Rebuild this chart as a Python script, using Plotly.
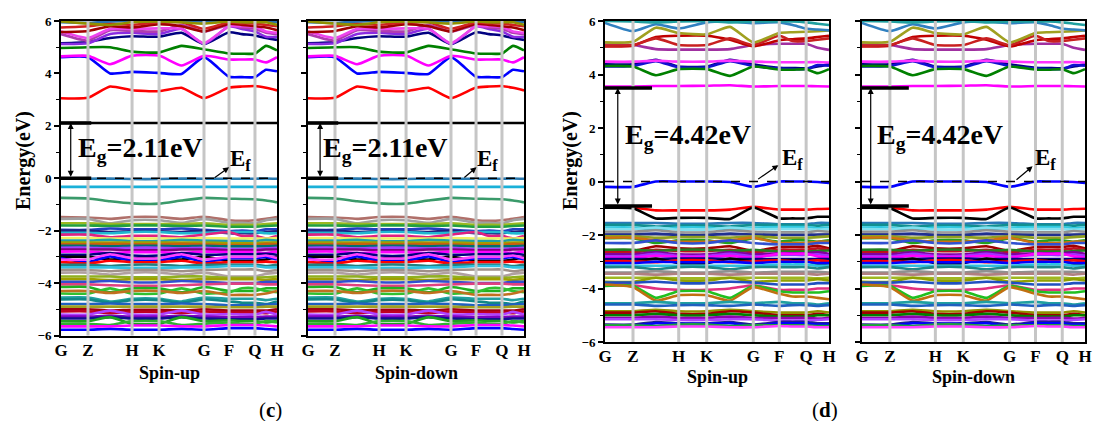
import plotly.graph_objects as go

# ---------------- data ----------------
k_nodes = [0.0, 0.125, 0.227, 0.329, 0.454, 0.558, 0.662, 0.778, 0.838, 0.898, 0.949, 1.0]
k_ticks = [0.0, 0.125, 0.329, 0.454, 0.662, 0.778, 0.898, 1.0]
k_labels = ["G", "Z", "H", "K", "G", "F", "Q", "H"]
y_ticks = [-6, -4, -2, 0, 2, 4, 6]
spin_titles = ["Spin-up", "Spin-down"]
panel_letters = ["(<b>c</b>)", "(<b>d</b>)"]

# panel (c) conduction bands
c_cond_colors = ["#000000", "#ff0000", "#0000ff", "#ff00ff", "#008000", "#000080", "#8a2be2",
                 "#b03cb0", "#ee44ee", "#a00000", "#d02020", "#2a70b0", "#909000"]
c_cond_bands = [
    [2.11, 2.11, 2.11, 2.11, 2.11, 2.11, 2.11, 2.11, 2.11, 2.11, 2.11, 2.11],
    [3.05, 3.07, 3.50, 3.36, 3.32, 3.45, 3.05, 3.46, 3.50, 3.52, 3.45, 3.35],
    [4.62, 4.62, 4.00, 4.06, 4.02, 3.98, 4.62, 3.87, 3.86, 3.86, 4.14, 4.08],
    [4.65, 4.67, 4.35, 4.68, 4.68, 4.30, 4.67, 4.53, 4.53, 4.53, 4.42, 4.62],
    [4.97, 5.00, 5.00, 4.83, 4.80, 5.05, 4.92, 4.76, 4.75, 4.76, 5.05, 4.88],
    [5.15, 5.20, 5.35, 5.42, 5.40, 5.55, 5.12, 5.57, 5.50, 5.45, 5.35, 5.28],
    [5.12, 5.15, 5.50, 5.55, 5.50, 5.70, 5.12, 5.80, 5.70, 5.60, 5.40, 5.40],
    [5.50, 5.25, 5.65, 5.62, 5.60, 5.85, 5.60, 5.85, 5.75, 5.70, 5.55, 5.50],
    [5.60, 5.35, 5.70, 5.70, 5.72, 5.70, 5.15, 5.80, 5.80, 5.78, 5.60, 5.55],
    [5.58, 5.62, 5.80, 5.75, 5.88, 5.80, 5.60, 5.90, 5.85, 5.80, 5.75, 5.65],
    [5.75, 5.80, 5.90, 5.85, 5.95, 5.95, 5.70, 5.95, 5.92, 5.90, 5.85, 5.80],
    [5.95, 5.93, 5.98, 6.00, 6.00, 6.00, 5.98, 6.00, 6.00, 6.00, 5.98, 5.95],
    [5.98, 5.90, 5.85, 5.95, 5.98, 5.95, 5.90, 5.98, 5.95, 5.95, 5.95, 5.85],
]

# panel (c) valence bands
c_val_colors = ["#2a7ab0", "#1ab0d8", "#3a9a6a",
                "#b0706a", "#a0a0a0", "#9ab820", "#20a040", "#2040c0", "#202080", "#20b8d0",
                "#e02080", "#f0f060", "#20a0a0", "#a0a000", "#c86010", "#007070", "#a040ff",
                "#800080", "#ff00ff", "#000080", "#000000", "#0000ff", "#ff0000", "#ff40ff",
                "#208080", "#30c0e0", "#a09088", "#b0a0a0", "#90b020", "#a0a000", "#3050d0",
                "#e04080", "#20b020", "#30c030", "#c07020", "#20a0a0", "#108888", "#2060c0",
                "#a0a020", "#a00010", "#c00020", "#b040ff", "#8000c0", "#101090", "#20a020",
                "#30b030", "#ff00ff", "#0000ff"]
c_val_bands = [
    [-0.02, -0.02, -0.01, -0.03, -0.03, -0.01, -0.02, -0.02, -0.02, -0.02, -0.01, -0.02],
    [-0.33, -0.33, -0.33, -0.33, -0.33, -0.33, -0.33, -0.33, -0.33, -0.33, -0.33, -0.33],
    [-0.75, -0.77, -0.88, -0.96, -0.97, -0.85, -0.75, -0.78, -0.79, -0.80, -0.85, -0.92],
    [-1.48, -1.50, -1.55, -1.48, -1.48, -1.55, -1.47, -1.60, -1.62, -1.60, -1.55, -1.48],
    [-1.55, -1.55, -1.72, -1.60, -1.60, -1.70, -1.55, -1.70, -1.70, -1.72, -1.60, -1.55],
    [-1.72, -1.72, -1.75, -1.75, -1.75, -1.75, -1.72, -1.78, -1.78, -1.78, -1.75, -1.72],
    [-1.80, -1.80, -1.82, -1.80, -1.80, -1.82, -1.80, -1.85, -1.85, -1.85, -1.82, -1.80],
    [-1.97, -1.97, -1.92, -1.95, -1.95, -1.92, -1.97, -2.02, -2.00, -2.02, -1.95, -1.95],
    [-2.00, -2.00, -2.05, -2.02, -2.02, -2.05, -2.00, -2.10, -2.10, -2.10, -2.05, -2.02],
    [-2.08, -2.08, -2.10, -2.05, -2.05, -2.10, -2.08, -2.05, -2.05, -2.05, -2.10, -2.10],
    [-2.15, -2.15, -2.25, -2.20, -2.20, -2.25, -2.15, -2.05, -2.20, -2.20, -2.30, -2.20],
    [-2.28, -2.28, -2.30, -2.30, -2.30, -2.30, -2.28, -2.30, -2.30, -2.30, -2.30, -2.28],
    [-2.38, -2.38, -2.35, -2.40, -2.40, -2.35, -2.38, -2.40, -2.40, -2.40, -2.35, -2.38],
    [-2.45, -2.45, -2.45, -2.45, -2.45, -2.45, -2.45, -2.48, -2.48, -2.48, -2.45, -2.45],
    [-2.52, -2.52, -2.50, -2.52, -2.52, -2.50, -2.52, -2.55, -2.55, -2.55, -2.50, -2.52],
    [-2.58, -2.58, -2.60, -2.58, -2.58, -2.60, -2.58, -2.60, -2.60, -2.60, -2.60, -2.58],
    [-2.65, -2.65, -2.68, -2.65, -2.65, -2.68, -2.65, -2.70, -2.70, -2.70, -2.68, -2.65],
    [-2.72, -2.72, -2.72, -2.75, -2.75, -2.72, -2.72, -2.75, -2.75, -2.75, -2.72, -2.72],
    [-2.80, -2.80, -2.85, -2.82, -2.82, -2.85, -2.80, -2.82, -2.82, -2.82, -2.85, -2.80],
    [-2.92, -2.92, -2.85, -2.95, -2.95, -2.85, -2.92, -2.90, -2.90, -2.90, -2.88, -2.92],
    [-3.00, -3.00, -3.10, -3.05, -3.05, -3.10, -3.00, -3.15, -3.15, -3.15, -3.10, -3.00],
    [-3.05, -3.20, -2.98, -3.15, -3.15, -2.98, -3.20, -3.05, -3.05, -3.05, -3.00, -3.10],
    [-3.20, -3.25, -3.15, -3.20, -3.20, -3.15, -3.25, -3.20, -3.20, -3.20, -3.18, -3.20],
    [-3.10, -3.10, -2.90, -3.05, -3.05, -2.90, -3.10, -3.00, -3.00, -3.00, -2.95, -3.05],
    [-3.30, -3.30, -3.35, -3.30, -3.30, -3.35, -3.30, -3.30, -3.30, -3.30, -3.35, -3.30],
    [-3.40, -3.40, -3.40, -3.42, -3.42, -3.40, -3.40, -3.35, -3.35, -3.35, -3.40, -3.40],
    [-3.50, -3.50, -3.55, -3.50, -3.50, -3.55, -3.50, -3.48, -3.48, -3.48, -3.55, -3.50],
    [-3.60, -3.60, -3.68, -3.60, -3.60, -3.68, -3.60, -3.75, -3.75, -3.75, -3.65, -3.60],
    [-3.75, -3.75, -3.75, -3.78, -3.78, -3.75, -3.75, -3.80, -3.80, -3.80, -3.78, -3.75],
    [-3.85, -3.85, -3.88, -3.85, -3.85, -3.88, -3.85, -3.85, -3.85, -3.85, -3.88, -3.85],
    [-3.95, -3.95, -3.92, -3.97, -3.97, -3.92, -3.95, -4.00, -4.00, -4.00, -3.95, -3.95],
    [-4.05, -4.05, -4.08, -4.10, -4.10, -4.08, -4.05, -4.02, -4.02, -4.02, -4.05, -4.05],
    [-4.15, -4.15, -4.35, -4.20, -4.20, -4.35, -4.15, -4.30, -4.30, -4.30, -4.20, -4.20],
    [-4.40, -4.40, -4.20, -4.40, -4.40, -4.20, -4.40, -4.35, -4.20, -4.20, -4.30, -4.35],
    [-4.30, -4.30, -4.38, -4.30, -4.30, -4.38, -4.30, -4.45, -4.45, -4.45, -4.40, -4.30],
    [-4.55, -4.55, -4.70, -4.60, -4.60, -4.70, -4.55, -4.60, -4.60, -4.60, -4.65, -4.60],
    [-4.62, -4.62, -4.75, -4.65, -4.65, -4.75, -4.62, -4.70, -4.75, -4.75, -4.80, -4.70],
    [-4.80, -4.80, -4.78, -4.80, -4.80, -4.78, -4.80, -4.85, -4.85, -4.85, -4.82, -4.80],
    [-4.90, -4.90, -4.90, -4.90, -4.90, -4.90, -4.90, -4.92, -4.92, -4.92, -4.90, -4.90],
    [-5.00, -5.00, -5.05, -5.02, -5.02, -5.05, -5.00, -5.05, -5.05, -5.05, -5.05, -5.00],
    [-5.08, -5.08, -5.15, -5.10, -5.10, -5.15, -5.08, -5.12, -5.12, -5.12, -5.15, -5.08],
    [-5.20, -5.20, -5.05, -5.20, -5.20, -5.05, -5.20, -5.18, -5.20, -5.20, -5.10, -5.20],
    [-5.28, -5.28, -5.25, -5.28, -5.28, -5.25, -5.28, -5.30, -5.30, -5.30, -5.28, -5.28],
    [-5.35, -5.35, -5.30, -5.35, -5.35, -5.30, -5.35, -5.38, -5.38, -5.38, -5.35, -5.35],
    [-5.45, -5.45, -5.30, -5.55, -5.55, -5.30, -5.45, -5.42, -5.45, -5.45, -5.50, -5.45],
    [-5.55, -5.55, -5.60, -5.45, -5.45, -5.60, -5.55, -5.50, -5.55, -5.55, -5.45, -5.50],
    [-5.65, -5.65, -5.65, -5.62, -5.62, -5.65, -5.65, -5.60, -5.60, -5.60, -5.62, -5.65],
    [-5.78, -5.78, -5.75, -5.78, -5.78, -5.75, -5.78, -5.72, -5.72, -5.72, -5.75, -5.78],
]

# panel (d) conduction bands
d_cond_colors = ["#ff00ff", "#000080", "#1010d0", "#008000", "#ff33ff", "#a030a0",
                 "#c00000", "#c82020", "#a0a020", "#3080c0", "#20a0a0"]
d_cond_bands = [
    [3.55, 3.55, 3.57, 3.57, 3.58, 3.60, 3.55, 3.57, 3.57, 3.57, 3.56, 3.55],
    [4.38, 4.38, 4.55, 4.30, 4.30, 4.55, 4.38, 4.25, 4.24, 4.23, 4.30, 4.38],
    [4.30, 4.32, 4.50, 4.27, 4.27, 4.50, 4.32, 4.22, 4.20, 4.20, 4.35, 4.33],
    [4.32, 4.30, 3.97, 4.20, 4.20, 3.95, 4.30, 4.18, 4.18, 4.20, 4.05, 4.20],
    [4.48, 4.48, 4.52, 4.48, 4.48, 4.52, 4.48, 4.46, 4.46, 4.46, 4.47, 4.45],
    [5.12, 5.10, 4.95, 4.93, 4.93, 4.95, 5.10, 5.15, 5.15, 5.15, 5.00, 4.92],
    [5.05, 5.08, 5.40, 5.45, 5.45, 5.30, 5.05, 5.28, 5.32, 5.35, 5.40, 5.45],
    [5.08, 5.10, 5.35, 5.10, 5.10, 5.35, 5.10, 5.45, 5.25, 5.25, 5.30, 5.35],
    [5.20, 5.22, 5.75, 5.55, 5.50, 5.78, 5.20, 5.55, 5.58, 5.60, 5.62, 5.65],
    [5.93, 5.62, 5.88, 5.72, 5.95, 5.98, 5.92, 5.95, 5.85, 5.72, 5.68, 5.65],
    [6.00, 5.98, 5.95, 5.98, 6.00, 5.95, 5.98, 5.98, 5.98, 5.95, 5.90, 5.85],
]

# panel (d) valence bands
d_val_colors = ["#0000ff", "#ff0000", "#000000",
                "#2878b8", "#109090", "#30c8e0", "#80e0f0", "#909090", "#a0a0a0", "#203090",
                "#90a020", "#20a020", "#d07010", "#3050d0", "#a00000", "#c01020", "#208020",
                "#8000a0", "#a030ff", "#ff00ff", "#000080", "#000000", "#ff0000", "#0000ff",
                "#30c0e0", "#208888", "#909090", "#b08080", "#a0b820", "#90a000", "#2050c0",
                "#e03080", "#20c020", "#c07010", "#20a0a0", "#2060c0", "#909000", "#a00000",
                "#008000", "#9000b0", "#b040ff", "#202090", "#0000ff", "#20a040", "#ff40ff"]
d_val_bands = [
    [-0.20, -0.20, 0.00, 0.00, 0.00, -0.02, -0.20, 0.00, 0.00, 0.00, -0.02, -0.05],
    [-0.98, -0.98, -1.08, -1.08, -1.08, -1.05, -0.95, -1.05, -1.05, -1.05, -1.03, -1.02],
    [-0.98, -1.00, -1.38, -1.36, -1.36, -1.40, -0.97, -1.38, -1.38, -1.38, -1.32, -1.32],
    [-1.55, -1.55, -1.55, -1.58, -1.58, -1.55, -1.55, -1.60, -1.60, -1.60, -1.55, -1.55],
    [-1.62, -1.62, -1.68, -1.65, -1.65, -1.68, -1.62, -1.62, -1.62, -1.62, -1.65, -1.62],
    [-1.72, -1.72, -1.80, -1.72, -1.72, -1.80, -1.72, -1.70, -1.70, -1.70, -1.75, -1.72],
    [-1.78, -1.78, -1.72, -1.80, -1.80, -1.72, -1.78, -1.78, -1.78, -1.78, -1.80, -1.78],
    [-1.88, -1.88, -1.82, -1.90, -1.90, -1.82, -1.88, -1.90, -1.90, -1.90, -1.85, -1.88],
    [-1.95, -1.95, -2.00, -1.95, -1.95, -2.00, -1.95, -1.95, -1.95, -1.95, -2.00, -1.95],
    [-1.98, -1.98, -1.95, -2.00, -2.00, -1.95, -1.98, -2.00, -2.00, -2.00, -1.98, -1.98],
    [-2.05, -2.05, -2.10, -2.08, -2.08, -2.10, -2.05, -2.10, -2.10, -2.10, -2.08, -2.05],
    [-2.12, -2.12, -2.30, -2.20, -2.20, -2.30, -2.12, -2.25, -2.20, -2.20, -2.25, -2.20],
    [-2.10, -2.10, -2.20, -2.25, -2.25, -2.20, -2.10, -2.30, -2.30, -2.30, -2.25, -2.25],
    [-2.30, -2.30, -2.20, -2.30, -2.30, -2.20, -2.30, -2.35, -2.35, -2.35, -2.30, -2.30],
    [-2.60, -2.60, -2.42, -2.50, -2.50, -2.42, -2.60, -2.45, -2.45, -2.45, -2.40, -2.50],
    [-2.65, -2.65, -2.55, -2.60, -2.60, -2.55, -2.65, -2.55, -2.55, -2.55, -2.50, -2.55],
    [-2.55, -2.55, -2.60, -2.55, -2.55, -2.60, -2.55, -2.62, -2.62, -2.62, -2.60, -2.58],
    [-2.72, -2.72, -2.65, -2.72, -2.72, -2.65, -2.72, -2.68, -2.68, -2.68, -2.65, -2.70],
    [-2.80, -2.80, -2.70, -2.78, -2.78, -2.70, -2.80, -2.75, -2.75, -2.75, -2.72, -2.78],
    [-2.85, -2.85, -2.78, -2.82, -2.82, -2.78, -2.85, -2.70, -2.70, -2.70, -2.80, -2.85],
    [-2.90, -2.90, -2.90, -2.88, -2.88, -2.90, -2.90, -2.90, -2.90, -2.90, -2.90, -2.90],
    [-3.00, -3.00, -2.88, -3.05, -3.05, -2.88, -3.00, -2.95, -2.95, -2.95, -3.10, -3.05],
    [-2.98, -2.98, -3.02, -2.95, -2.95, -3.02, -2.98, -2.95, -2.98, -2.98, -2.95, -2.98],
    [-3.05, -3.05, -3.00, -3.02, -3.02, -3.00, -3.05, -3.00, -3.00, -3.00, -3.05, -3.05],
    [-3.15, -3.15, -3.15, -3.15, -3.15, -3.15, -3.15, -3.10, -3.10, -3.10, -3.15, -3.15],
    [-3.20, -3.20, -3.28, -3.20, -3.20, -3.28, -3.20, -3.20, -3.20, -3.20, -3.25, -3.20],
    [-3.40, -3.40, -3.35, -3.40, -3.40, -3.35, -3.40, -3.38, -3.38, -3.38, -3.38, -3.40],
    [-3.45, -3.45, -3.48, -3.45, -3.45, -3.48, -3.45, -3.45, -3.45, -3.45, -3.48, -3.45],
    [-3.60, -3.60, -3.60, -3.62, -3.62, -3.60, -3.60, -3.60, -3.60, -3.60, -3.62, -3.60],
    [-3.75, -3.75, -3.60, -3.70, -3.70, -3.60, -3.75, -3.70, -3.70, -3.70, -3.65, -3.70],
    [-3.78, -3.78, -3.75, -3.80, -3.80, -3.75, -3.78, -3.85, -3.85, -3.85, -3.80, -3.80],
    [-3.88, -3.88, -4.00, -4.05, -4.05, -4.00, -3.88, -4.05, -4.05, -4.05, -4.00, -4.00],
    [-3.90, -3.90, -4.35, -4.10, -4.10, -4.35, -3.90, -4.10, -4.15, -4.15, -4.15, -4.10],
    [-3.85, -3.95, -4.45, -4.25, -4.25, -4.45, -3.95, -4.20, -4.30, -4.30, -4.35, -4.40],
    [-4.55, -4.55, -4.50, -4.55, -4.55, -4.50, -4.55, -4.50, -4.55, -4.55, -4.60, -4.55],
    [-4.60, -4.60, -4.65, -4.62, -4.62, -4.65, -4.60, -4.65, -4.62, -4.62, -4.65, -4.62],
    [-4.85, -4.85, -4.80, -4.85, -4.85, -4.80, -4.85, -4.90, -4.90, -4.90, -4.85, -4.90],
    [-4.90, -4.90, -4.85, -4.95, -4.95, -4.85, -4.90, -5.00, -5.00, -5.00, -4.95, -5.00],
    [-5.00, -5.00, -4.95, -5.00, -5.00, -4.95, -5.00, -5.05, -5.05, -5.05, -5.00, -5.00],
    [-5.10, -5.10, -5.05, -5.10, -5.10, -5.05, -5.10, -5.10, -5.10, -5.10, -5.12, -5.10],
    [-5.15, -5.15, -5.15, -5.18, -5.18, -5.15, -5.15, -5.20, -5.20, -5.20, -5.18, -5.15],
    [-5.35, -5.35, -5.25, -5.30, -5.30, -5.25, -5.35, -5.25, -5.25, -5.25, -5.30, -5.30],
    [-5.40, -5.40, -5.30, -5.32, -5.32, -5.30, -5.40, -5.30, -5.30, -5.30, -5.35, -5.35],
    [-5.38, -5.38, -5.40, -5.35, -5.35, -5.40, -5.38, -5.38, -5.38, -5.38, -5.40, -5.40],
    [-5.45, -5.45, -5.45, -5.42, -5.42, -5.45, -5.45, -5.40, -5.42, -5.42, -5.45, -5.45],
]

# band gap edges (VBM, CBM) and labels
c_gap = [0.0, 2.11]
d_gap = [-0.92, 3.50]
gap_texts = ["E<sub>g</sub>=2.11eV", "E<sub>g</sub>=4.42eV"]

# ---------------- layout geometry ----------------
W, H = 1094, 421
FONT = "Liberation Serif"


def px(x):
    return x / W


def py(y):
    return 1 - y / H


panels = [
    dict(x=(61, 277), y=(21, 335.5), cond=(c_cond_colors, c_cond_bands), val=(c_val_colors, c_val_bands),
         gap=c_gap, gtext=gap_texts[0], mark=0.14, darrow_x=0.045, gtx=0.37, gty=1.1,
         ef_head=(0.778, 0.42), ef_tail=(0.704, -0.02), eftx=(0.83, 0.7), spin=0, ylab=True, ty=373),
    dict(x=(308, 524), y=(21, 335.5), cond=(c_cond_colors, c_cond_bands), val=(c_val_colors, c_val_bands),
         gap=c_gap, gtext=gap_texts[0], mark=0.14, darrow_x=0.056, gtx=0.36, gty=1.1,
         ef_head=(0.78, 0.42), ef_tail=(0.717, -0.02), eftx=(0.83, 0.7), spin=1, ylab=False, ty=373),
    dict(x=(605, 829), y=(21, 342), cond=(d_cond_colors, d_cond_bands), val=(d_val_colors, d_val_bands),
         gap=d_gap, gtext=gap_texts[1], mark=0.21, darrow_x=0.057, gtx=0.37, gty=1.69,
         ef_head=(0.774, 0.61), ef_tail=(0.677, 0.05), eftx=(0.835, 0.85), spin=0, ylab=True, ty=377),
    dict(x=(862, 1085), y=(21, 342), cond=(d_cond_colors, d_cond_bands), val=(d_val_colors, d_val_bands),
         gap=d_gap, gtext=gap_texts[1], mark=0.21, darrow_x=0.039, gtx=0.35, gty=1.69,
         ef_head=(0.765, 0.57), ef_tail=(0.686, 0.02), eftx=(0.825, 0.85), spin=1, ylab=False, ty=377),
]

fig = go.Figure()
shapes = []
annotations = []
layout_axes = {}

for i, p in enumerate(panels):
    n = i + 1
    xa = "x" if n == 1 else f"x{n}"
    ya = "y" if n == 1 else f"y{n}"
    xkey = "xaxis" if n == 1 else f"xaxis{n}"
    ykey = "yaxis" if n == 1 else f"yaxis{n}"

    for colors, bands in (p["cond"], p["val"]):
        for col, vals in zip(colors, bands):
            fig.add_trace(go.Scatter(x=k_nodes, y=vals, mode="lines", xaxis=xa, yaxis=ya,
                                     line=dict(color=col, width=2.6, shape="spline", smoothing=0.5),
                                     showlegend=False, hoverinfo="skip"))

    # high-symmetry gray lines (above bands)
    for kv in k_ticks[1:-1]:
        shapes.append(dict(type="line", xref=xa, yref=f"{ya} domain", x0=kv, x1=kv, y0=0, y1=1,
                           line=dict(color="#c6c6c6", width=3), layer="above"))
    # Fermi level dashed line
    shapes.append(dict(type="line", xref=xa, yref=ya, x0=k_ticks[0], x1=k_ticks[-1], y0=0, y1=0,
                       line=dict(color="black", width=1.5, dash="dash"), layer="above"))
    # thick gap edge markers
    for gv in p["gap"]:
        shapes.append(dict(type="line", xref=xa, yref=ya, x0=k_ticks[0], x1=p["mark"], y0=gv, y1=gv,
                           line=dict(color="black", width=3.5), layer="above"))

    # double arrow for gap
    annotations.append(dict(x=p["darrow_x"], y=p["gap"][1], ax=p["darrow_x"], ay=p["gap"][0],
                            xref=xa, yref=ya, axref=xa, ayref=ya, text="", showarrow=True,
                            arrowhead=2, startarrowhead=2, arrowside="end+start",
                            arrowsize=1, arrowwidth=1.2, arrowcolor="black"))
    annotations.append(dict(x=p["gtx"], y=p["gty"], xref=xa, yref=ya, text=p["gtext"], showarrow=False,
                            xanchor="center", yanchor="middle",
                            font=dict(family=FONT, size=28, color="black", weight="bold")))
    # Ef arrow + label
    annotations.append(dict(x=p["ef_head"][0], y=p["ef_head"][1], ax=p["ef_tail"][0], ay=p["ef_tail"][1],
                            xref=xa, yref=ya, axref=xa, ayref=ya, text="", showarrow=True,
                            arrowhead=2, arrowsize=1, arrowwidth=1.2, arrowcolor="black"))
    annotations.append(dict(x=p["eftx"][0], y=p["eftx"][1], xref=xa, yref=ya, text="E<sub>f</sub>",
                            showarrow=False, xanchor="center", yanchor="middle",
                            font=dict(family=FONT, size=23, color="black", weight="bold")))

    x0, x1 = p["x"]
    y0, y1 = p["y"]
    layout_axes[xkey] = dict(domain=[px(x0), px(x1)], range=[k_ticks[0], k_ticks[-1]], anchor=ya,
                             tickmode="array", tickvals=k_ticks, ticktext=k_labels, ticks="",
                             automargin=False, ticklabelstandoff=-2,
                             showgrid=False, zeroline=False, showline=True, mirror=True,
                             linecolor="black", linewidth=2,
                             tickfont=dict(family=FONT, size=17, color="black", weight="bold"))
    layout_axes[ykey] = dict(domain=[py(y1), py(y0)], range=[y_ticks[0], y_ticks[-1]], anchor=xa,
                             tickmode="array", tickvals=y_ticks, showticklabels=p["ylab"],
                             automargin=False,
                             ticks="outside", ticklen=5, tickwidth=1.5, tickcolor="black",
                             minor=dict(dtick=1, ticks="outside", ticklen=3, tickwidth=1.2, tickcolor="black"),
                             showgrid=False, zeroline=False, showline=True, mirror=True,
                             linecolor="black", linewidth=2,
                             tickfont=dict(family=FONT, size=13, color="black", weight="bold"))

    # spin title
    annotations.append(dict(x=px((x0 + x1) / 2), y=py(p["ty"]), xref="paper", yref="paper",
                            xanchor="center", yanchor="middle",
                            text=spin_titles[p["spin"]], showarrow=False,
                            font=dict(family=FONT, size=18, color="black", weight="bold")))

# Energy titles
for xc in (24, 571):
    annotations.append(dict(x=px(xc), y=py(161), xref="paper", yref="paper", text="Energy(eV)",
                            xanchor="center", yanchor="middle",
                            textangle=-90, showarrow=False,
                            font=dict(family=FONT, size=20, color="black", weight="bold")))
# panel letters
for xc, txt in zip((270, 825), panel_letters):
    annotations.append(dict(x=px(xc), y=py(410), xref="paper", yref="paper", text=txt,
                            xanchor="center", yanchor="middle",
                            showarrow=False, font=dict(family=FONT, size=21, color="black")))

fig.update_layout(width=W, height=H, margin=dict(l=0, r=0, t=0, b=0, autoexpand=False),
                  paper_bgcolor="white", plot_bgcolor="white",
                  shapes=shapes, annotations=annotations, **layout_axes)

fig.write_html("out.html", post_script="document.body.style.margin='0';")
